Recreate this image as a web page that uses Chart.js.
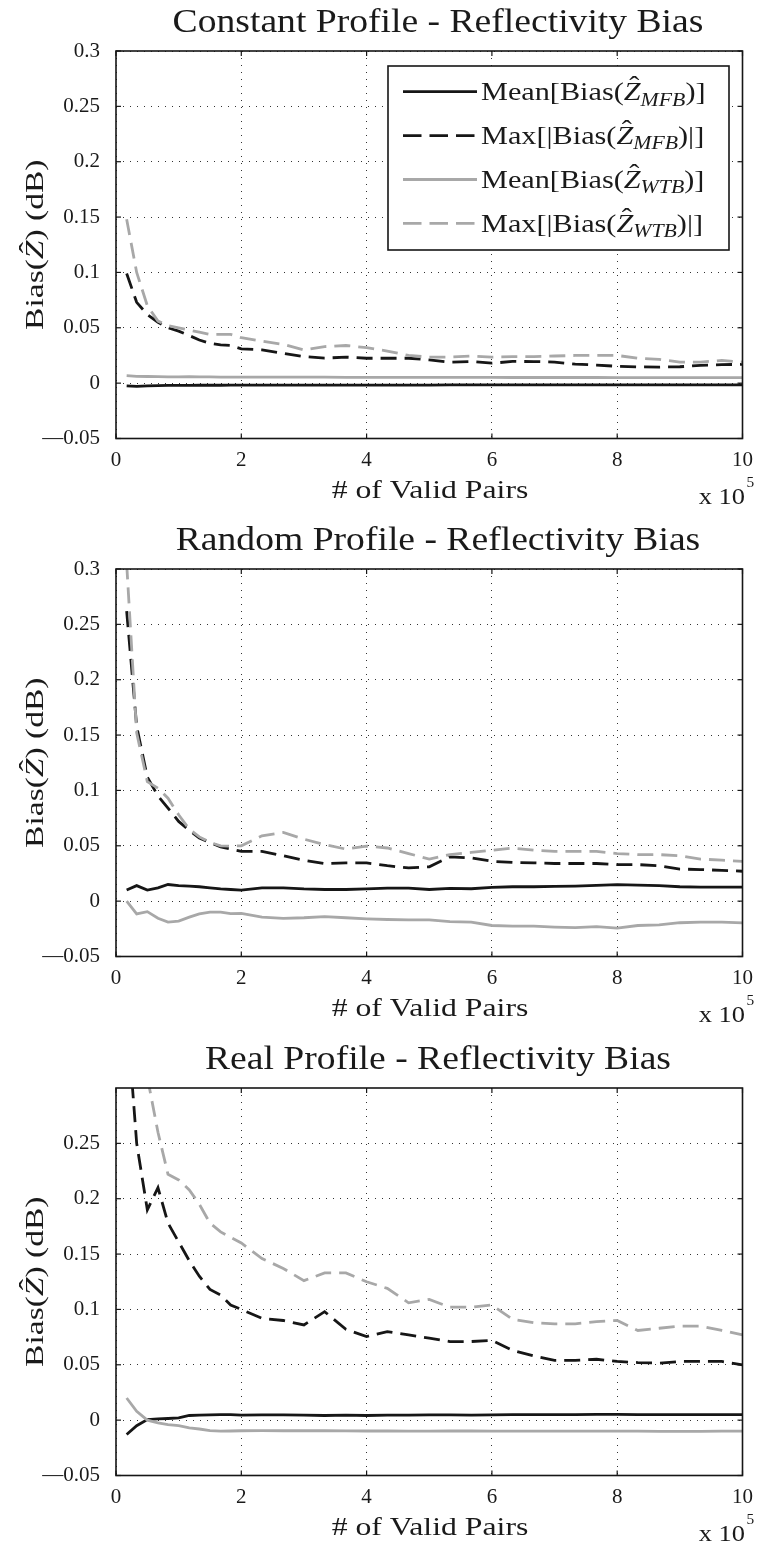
<!DOCTYPE html>
<html>
<head>
<meta charset="utf-8">
<title>Reflectivity Bias</title>
<script src="https://cdn.jsdelivr.net/npm/chart.js@4.4.1/dist/chart.umd.min.js"></script>
<style>
  html, body { margin: 0; padding: 0; background: #fff; overflow: hidden; }
  #page { position: relative; width: 762px; height: 1546px; }
  canvas { position: absolute; left: 0; }
</style>
</head>
<body>
<div id="page">
  <canvas id="constChart" width="762" height="518" style="top:0px"></canvas>
  <canvas id="randChart" width="762" height="518" style="top:518px"></canvas>
  <canvas id="realChart" width="762" height="518" style="top:1037px"></canvas>
</div>
<script>
// Number of valid pairs (x 10^5), shared by every curve
var pairsX = [0.17, 0.33, 0.5, 0.67, 0.83, 1.0, 1.17, 1.33, 1.5, 1.67, 1.83, 2.0,
  2.33, 2.67, 3.0, 3.33, 3.67, 4.0, 4.33, 4.67, 5.0, 5.33, 5.67, 6.0,
  6.33, 6.67, 7.0, 7.33, 7.67, 8.0, 8.33, 8.67, 9.0, 9.33, 9.67, 10.0];

// Constant profile
var constMeanMfb = [-0.0025, -0.003, -0.0025, -0.0022, -0.002, -0.002, -0.002, -0.0019, -0.0019, -0.0019, -0.0018, -0.0018,
  -0.0018, -0.0018, -0.0018, -0.0017, -0.0017, -0.0017, -0.0017, -0.0017, -0.0017, -0.0016, -0.0016, -0.0016,
  -0.0016, -0.0016, -0.0016, -0.0016, -0.0016, -0.0016, -0.0016, -0.0015, -0.0015, -0.0015, -0.0015, -0.0015];
var constMaxMfb = [0.099, 0.073, 0.062, 0.055, 0.050, 0.047, 0.043, 0.039, 0.036, 0.0345, 0.034, 0.031,
  0.030, 0.027, 0.024, 0.0226, 0.0235, 0.0225, 0.0225, 0.0225, 0.021, 0.019, 0.0195, 0.018,
  0.0196, 0.0195, 0.019, 0.0172, 0.0163, 0.0152, 0.0147, 0.0145, 0.0148, 0.016, 0.0167, 0.017];
var constMeanWtb = [0.0068, 0.0062, 0.006, 0.0058, 0.0057, 0.0056, 0.0058, 0.0057, 0.0056, 0.0055, 0.0055, 0.0055,
  0.0055, 0.0054, 0.0054, 0.0054, 0.0053, 0.0053, 0.0053, 0.0052, 0.0052, 0.0052, 0.0052, 0.0052,
  0.0051, 0.0051, 0.0051, 0.0051, 0.0051, 0.005, 0.005, 0.005, 0.005, 0.005, 0.005, 0.005];
var constMaxWtb = [0.148, 0.100, 0.070, 0.056, 0.052, 0.050, 0.048, 0.046, 0.044, 0.044, 0.044, 0.041,
  0.038, 0.035, 0.030, 0.033, 0.034, 0.032, 0.029, 0.025, 0.0235, 0.0235, 0.0245, 0.0235,
  0.024, 0.024, 0.0245, 0.025, 0.025, 0.025, 0.0225, 0.0215, 0.019, 0.019, 0.0205, 0.019];

// Random profile
var randMeanMfb = [0.010, 0.014, 0.010, 0.012, 0.015, 0.014, 0.0135, 0.013, 0.012, 0.011, 0.0105, 0.010,
  0.012, 0.012, 0.011, 0.0105, 0.0105, 0.011, 0.0117, 0.0117, 0.0105, 0.0115, 0.0112, 0.0125,
  0.013, 0.013, 0.0133, 0.0136, 0.0142, 0.015, 0.0145, 0.014, 0.013, 0.0127, 0.0127, 0.0127];
var randMaxMfb = [0.262, 0.158, 0.112, 0.095, 0.084, 0.072, 0.064, 0.057, 0.053, 0.049, 0.047, 0.045,
  0.045, 0.041, 0.037, 0.034, 0.0345, 0.0345, 0.032, 0.030, 0.031, 0.040, 0.039, 0.036,
  0.035, 0.0346, 0.034, 0.034, 0.034, 0.033, 0.033, 0.032, 0.029, 0.0285, 0.0278, 0.027];
var randMeanWtb = [0.0, -0.0115, -0.0095, -0.0155, -0.019, -0.018, -0.0145, -0.0115, -0.010, -0.010, -0.0112, -0.011,
  -0.0145, -0.0155, -0.015, -0.014, -0.015, -0.016, -0.0166, -0.017, -0.017, -0.0185, -0.019, -0.022,
  -0.0226, -0.0226, -0.0235, -0.024, -0.023, -0.0244, -0.022, -0.0214, -0.0195, -0.019, -0.019, -0.0196];
var randMaxWtb = [0.305, 0.152, 0.108, 0.102, 0.093, 0.078, 0.065, 0.058, 0.053, 0.050, 0.0497, 0.050,
  0.059, 0.062, 0.056, 0.051, 0.047, 0.0497, 0.048, 0.043, 0.038, 0.042, 0.044, 0.046,
  0.048, 0.046, 0.045, 0.045, 0.045, 0.043, 0.042, 0.042, 0.041, 0.038, 0.037, 0.036];

// Real profile
var realMeanMfb = [-0.013, -0.005, 0.0005, 0.0012, 0.0015, 0.002, 0.0042, 0.0046, 0.0048, 0.005, 0.005, 0.0045,
  0.0048, 0.0048, 0.0045, 0.0042, 0.0045, 0.0042, 0.0045, 0.0045, 0.0048, 0.0048, 0.0046, 0.0048,
  0.005, 0.005, 0.005, 0.005, 0.0052, 0.0052, 0.005, 0.005, 0.005, 0.005, 0.005, 0.005];
var realMaxMfb = [0.37, 0.25, 0.19, 0.21, 0.178, 0.161, 0.144, 0.130, 0.118, 0.113, 0.104, 0.100,
  0.092, 0.090, 0.086, 0.098, 0.082, 0.0755, 0.080, 0.077, 0.074, 0.071, 0.071, 0.072,
  0.063, 0.058, 0.054, 0.054, 0.055, 0.053, 0.052, 0.0515, 0.053, 0.053, 0.053, 0.050];
var realMeanWtb = [0.020, 0.008, 0.0, -0.0025, -0.004, -0.005, -0.007, -0.008, -0.0095, -0.0099, -0.0098, -0.0096,
  -0.0094, -0.0096, -0.0096, -0.0096, -0.0097, -0.0098, -0.0098, -0.0099, -0.0099, -0.0098, -0.0098, -0.0099,
  -0.010, -0.010, -0.010, -0.0099, -0.010, -0.010, -0.010, -0.0101, -0.0101, -0.0101, -0.010, -0.010];
var realMaxWtb = [0.46, 0.38, 0.31, 0.26, 0.222, 0.217, 0.208, 0.195, 0.178, 0.17, 0.165, 0.160,
  0.146, 0.137, 0.126, 0.133, 0.133, 0.125, 0.119, 0.106, 0.109, 0.102, 0.102, 0.104,
  0.091, 0.088, 0.087, 0.087, 0.089, 0.090, 0.081, 0.083, 0.085, 0.085, 0.081, 0.077];

// Axis ticks
var xTickValues = [0, 2, 4, 6, 8, 10];
var xTickLabels = ['0', '2', '4', '6', '8', '10'];
var yTickValues = [-0.05, 0, 0.05, 0.1, 0.15, 0.2, 0.25, 0.3];
var yTickLabels = ['\u20140.05', '0', '0.05', '0.1', '0.15', '0.2', '0.25', '0.3'];
var realYTickValues = [-0.05, 0, 0.05, 0.1, 0.15, 0.2, 0.25];
var realYTickLabels = ['\u20140.05', '0', '0.05', '0.1', '0.15', '0.2', '0.25'];

// Texts
var panelTitles = ['Constant Profile - Reflectivity Bias', 'Random Profile - Reflectivity Bias', 'Real Profile - Reflectivity Bias'];
var xAxisTitle = '# of Valid Pairs';
var seriesNames = ['Mean[Bias(Z_MFB)]', 'Max[|Bias(Z_MFB)|]', 'Mean[Bias(Z_WTB)]', 'Max[|Bias(Z_WTB)|]'];
var legendHeads = ['Mean[Bias(', 'Max[|Bias(', 'Mean[Bias(', 'Max[|Bias('];
var legendSubs = ['MFB', 'MFB', 'WTB', 'WTB'];
var legendTails = [')]', ')|]', ')]', ')|]'];

var BLACK = '#161616';
var GRAY = '#a8a8a8';
var SERIF = '"Liberation Serif", "Times New Roman", serif';
var DASH = [16, 8];
var seriesColors = [BLACK, BLACK, GRAY, GRAY];
var seriesDashes = [[], DASH, [], DASH];

function toPoints(ys) {
    return pairsX.map(function (x, i) { return { x: x, y: ys[i] }; });
}

function fontOf(p) {
    return (p.italic ? 'italic ' : '') + p.size + 'px ' + SERIF;
}

// Draws a line of mixed text (italic Z with hat, subscripts), stretched horizontally by sx
function richText(ctx, parts, x, y, align, sx) {
    var widths = parts.map(function (p) {
        ctx.font = fontOf(p);
        return ctx.measureText(p.text).width;
    });
    var total = widths.reduce(function (s, w) { return s + w; }, 0);
    ctx.save();
    ctx.translate(x, y);
    ctx.scale(sx, 1);
    var cx = align === 'center' ? -total / 2 : (align === 'right' ? -total : 0);
    ctx.textBaseline = 'alphabetic';
    parts.forEach(function (p, i) {
        ctx.font = fontOf(p);
        ctx.textAlign = 'left';
        ctx.fillText(p.text, cx, p.dy || 0);
        if (p.hat) {
            ctx.font = p.size + 'px ' + SERIF;
            ctx.textAlign = 'center';
            ctx.fillText('\u02C6', cx + widths[i] * 0.62, -p.size * 0.24);
        }
        cx += widths[i];
    });
    ctx.restore();
}

function strokeLine(ctx, x1, y1, x2, y2) {
    ctx.beginPath();
    ctx.moveTo(x1, y1);
    ctx.lineTo(x2, y2);
    ctx.stroke();
}

// Box, inner tick marks, titles and the legend (MATLAB look)
var panelDecor = {
    id: 'panelDecor',
    afterDraw: function (chart, args, opts) {
        var ctx = chart.ctx;
        var a = chart.chartArea;
        var xs = chart.scales.x, ys = chart.scales.y;
        ctx.save();
        ctx.strokeStyle = BLACK;
        ctx.lineWidth = 1.2;
        xTickValues.forEach(function (v) {
            var px = xs.getPixelForValue(v);
            strokeLine(ctx, px, a.bottom, px, a.bottom - 5);
            strokeLine(ctx, px, a.top, px, a.top + 5);
        });
        opts.yTicks.forEach(function (v) {
            var py = ys.getPixelForValue(v);
            strokeLine(ctx, a.left, py, a.left + 5, py);
            strokeLine(ctx, a.right, py, a.right - 5, py);
        });
        ctx.lineWidth = 1.6;
        ctx.strokeRect(a.left, a.top, a.right - a.left, a.bottom - a.top);

        ctx.fillStyle = '#1a1a1a';
        // title
        richText(ctx, [{ text: opts.title, size: 33 }], 438, a.top - 19, 'center', 1.14);
        // x axis title and exponent
        richText(ctx, [{ text: xAxisTitle, size: 25 }], 430, a.bottom + 59, 'center', 1.27);
        richText(ctx, [{ text: 'x 10', size: 23 }], 745, a.bottom + 65, 'right', 1.15);
        richText(ctx, [{ text: '5', size: 14 }], 746.5, a.bottom + 48, 'left', 1.1);
        // y axis title, rotated
        ctx.save();
        ctx.translate(43, (a.top + a.bottom) / 2);
        ctx.rotate(-Math.PI / 2);
        richText(ctx, [
            { text: 'Bias(', size: 25 },
            { text: 'Z', size: 25, italic: true, hat: true },
            { text: ') (dB)', size: 25 }
        ], 0, 0, 'center', 1.34);
        ctx.restore();

        if (opts.legend) {
            var bx = 388, by = 66, bw = 341, bh = 184;
            ctx.fillStyle = '#fff';
            ctx.fillRect(bx, by, bw, bh);
            ctx.lineWidth = 1.6;
            ctx.strokeStyle = BLACK;
            ctx.strokeRect(bx, by, bw, bh);
            for (var i = 0; i < 4; i++) {
                var ly = 91.7 + i * 43.9;
                ctx.save();
                ctx.strokeStyle = seriesColors[i];
                ctx.lineWidth = 2.8;
                ctx.setLineDash(i % 2 === 1 ? [18.5, 8] : []);
                strokeLine(ctx, 403, ly, 477, ly);
                ctx.restore();
                ctx.fillStyle = '#1a1a1a';
                richText(ctx, [
                    { text: legendHeads[i], size: 25 },
                    { text: 'Z', size: 25, italic: true, hat: true },
                    { text: legendSubs[i], size: 18, italic: true, dy: 5.5 },
                    { text: legendTails[i], size: 25 }
                ], 481, ly + 8.3, 'left', 1.21);
            }
        }
        ctx.restore();
    }
};

function buildDatasets(meanMfb, maxMfb, meanWtb, maxWtb) {
    var values = [meanMfb, maxMfb, meanWtb, maxWtb];
    return values.map(function (ys, i) {
        return {
            label: seriesNames[i],
            data: toPoints(ys),
            borderColor: seriesColors[i],
            borderDash: seriesDashes[i],
            borderWidth: 2.8,
            pointRadius: 0,
            tension: 0,
            fill: false,
            order: 4 - i
        };
    });
}

function renderPanel(canvasId, title, datasets, tickValues, tickLabels, showLegend) {
    var ctx = document.getElementById(canvasId).getContext('2d');
    return new Chart(ctx, {
        type: 'line',
        data: { datasets: datasets },
        plugins: [panelDecor],
        options: {
            responsive: false,
            animation: false,
            devicePixelRatio: 1,
            layout: { autoPadding: false, padding: { top: 51, left: 0, right: 14.5, bottom: 39.5 } },
            plugins: {
                legend: { display: false },
                title: { display: false },
                tooltip: { enabled: false },
                panelDecor: { title: title, yTicks: tickValues, legend: showLegend }
            },
            scales: {
                x: {
                    type: 'linear',
                    min: 0,
                    max: 10,
                    afterBuildTicks: function (scale) {
                        scale.ticks = xTickValues.map(function (v) { return { value: v }; });
                    },
                    afterFit: function (scale) { scale.height = 40; },
                    ticks: {
                        autoSkip: false,
                        maxRotation: 0,
                        padding: 9,
                        color: '#1a1a1a',
                        font: { family: SERIF, size: 21 },
                        callback: function (value, index) { return xTickLabels[index]; }
                    },
                    grid: { color: '#333', lineWidth: 1, drawTicks: false },
                    border: { display: false, dash: [1, 6] }
                },
                y: {
                    min: -0.05,
                    max: 0.3,
                    afterBuildTicks: function (scale) {
                        scale.ticks = tickValues.map(function (v) { return { value: v }; });
                    },
                    afterFit: function (scale) { scale.width = 116; },
                    ticks: {
                        autoSkip: false,
                        padding: 16,
                        color: '#1a1a1a',
                        font: { family: SERIF, size: 21 },
                        callback: function (value, index) { return tickLabels[index]; }
                    },
                    grid: { color: '#333', lineWidth: 1, drawTicks: false },
                    border: { display: false, dash: [1, 6] }
                }
            }
        }
    });
}

renderPanel('constChart', panelTitles[0], buildDatasets(constMeanMfb, constMaxMfb, constMeanWtb, constMaxWtb), yTickValues, yTickLabels, true);
renderPanel('randChart', panelTitles[1], buildDatasets(randMeanMfb, randMaxMfb, randMeanWtb, randMaxWtb), yTickValues, yTickLabels, false);
renderPanel('realChart', panelTitles[2], buildDatasets(realMeanMfb, realMaxMfb, realMeanWtb, realMaxWtb), realYTickValues, realYTickLabels, false);
</script>
</body>
</html>
